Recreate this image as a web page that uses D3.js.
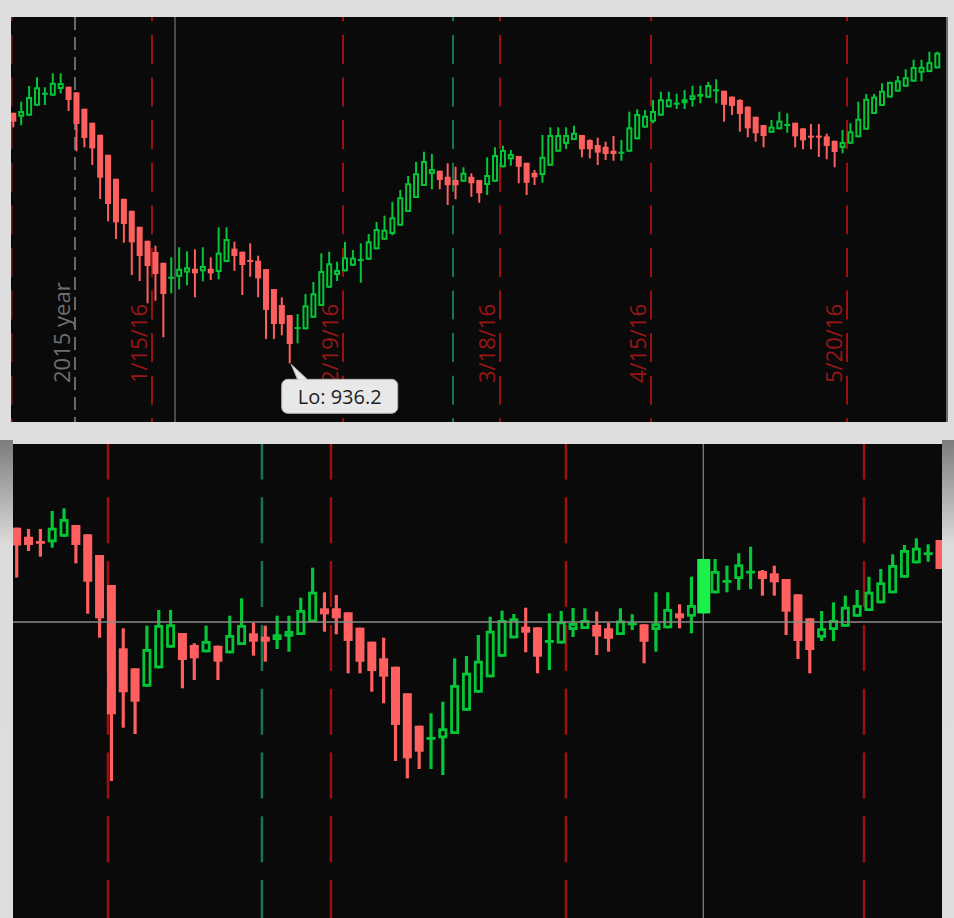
<!DOCTYPE html>
<html>
<head>
<meta charset="utf-8">
<script src="https://cdn.jsdelivr.net/npm/d3@7"></script>
<style>
html,body{margin:0;padding:0;background:#dedede;}
svg{display:block;}
</style>
</head>
<body>
<svg id="chart" width="954" height="918"></svg>
<script>
// ---------------- DATA: upper chart (daily candles, 118 sessions) ----------------
const topOpen = [1124.1,1121.1,1121.9,1129.4,1137.6,1136.9,1141.9,1143.6,1139.4,1127.1,
1116.6,1107.6,1092.6,1074.6,1059.6,1050.6,1038.6,1028.1,1019.7,1011.6,
999.9,1001.1,1004.2,1007.1,1005.2,1007.1,1004.7,1012.2,1022.2,1019.9,
1013.7,1013.1,1006.9,991.9,979.9,972.4,962.7,961.7,970.4,979.2,
992.9,1002.4,1005.2,1009.4,1013.7,1013.9,1021.7,1028.9,1033.2,1039.4,
1049.7,1060.2,1069.2,1078.2,1080.6,1076.1,1073.7,1072.4,1076.1,1073.7,
1069.9,1072.4,1083.2,1089.2,1091.7,1086.6,1079.1,1077.4,1084.4,1094.9,
1100.7,1103.7,1107.4,1103.7,1099.9,1098.6,1095.6,1094.7,1094.9,1104.2,
1112.9,1117.4,1121.9,1128.2,1131.4,1131.2,1133.7,1136.2,1135.4,1140.6,
1140.6,1136.2,1133.7,1128.7,1121.1,1114.9,1109.1,1111.7,1115.4,1116.6,
1112.4,1106.9,1106.9,1106.4,1103.1,1097.7,1100.9,1105.7,1111.4,1123.2,
1129.2,1135.5,1139.9,1143.6,1147.4,1154.1,1154.6,1157.4];
const topHigh = [1124.1,1132.4,1144.2,1150.7,1143.2,1153.7,1153.7,1143.6,1139.4,1127.1,
1116.6,1107.6,1092.6,1074.6,1059.6,1050.6,1038.6,1028.1,1024.4,1011.6,
1015.7,1023.2,1020.2,1021.7,1023.2,1015.7,1038.2,1038.2,1027.4,1019.9,
1026.2,1016.9,1006.9,991.9,985.7,972.4,973.2,988.2,997.2,1018.7,
1019.9,1012.4,1027.2,1021.2,1026.2,1033.2,1042.2,1046.9,1057.2,1066.2,
1076.7,1087.2,1094.9,1093.2,1080.6,1086.2,1083.6,1083.2,1078.7,1073.7,
1090.7,1098.2,1099.4,1096.2,1091.7,1086.6,1081.2,1107.4,1113.2,1113.2,
1113.2,1114.4,1107.4,1104.2,1105.4,1102.4,1106.7,1103.7,1124.9,1126.7,
1126.2,1133.7,1139.9,1139.9,1138.4,1141.2,1144.4,1144.4,1147.2,1149.2,
1140.6,1136.2,1134.2,1128.7,1121.1,1114.9,1118.7,1124.9,1123.7,1116.6,
1112.4,1115.7,1115.7,1108.4,1103.1,1111.2,1116.2,1132.4,1138.2,1138.2,
1146.2,1147.4,1151.7,1156.7,1163.9,1163.9,1169.9,1169.9];
const topLow = [1113.2,1114.7,1121.9,1129.4,1129.9,1136.9,1138.7,1125.4,1095.2,1098.2,
1084.9,1059.4,1042.7,1029.4,1026.6,1002.4,997.9,981.2,983.1,955.7,
988.7,991.7,994.7,985.7,997.7,998.7,999.2,1012.2,1005.6,987.4,
1001.1,985.7,954.4,954.4,957.2,936.2,951.2,961.7,970.4,979.2,
992.9,997.9,1005.2,1009.4,996.6,1013.9,1021.7,1028.9,1032.2,1039.4,
1049.7,1060.2,1069.2,1066.7,1066.7,1054.9,1059.2,1072.4,1061.1,1056.6,
1062.4,1072.4,1083.2,1084.4,1071.2,1062.4,1069.9,1071.6,1084.4,1094.9,
1096.9,1103.7,1090.7,1089.9,1084.9,1088.7,1088.1,1088.1,1094.9,1104.2,
1112.9,1116.2,1121.9,1128.2,1126.9,1126.9,1128.7,1131.2,1135.4,1131.2,
1117.4,1122.4,1109.9,1105.7,1102.4,1098.2,1109.1,1111.7,1109.1,1098.2,
1096.7,1096.7,1090.9,1089.2,1083.2,1093.7,1100.9,1105.7,1111.4,1123.2,
1129.2,1135.5,1139.9,1143.6,1147.4,1147.7,1154.6,1157.4];
const topClose = [1117.4,1125.4,1135.9,1143.2,1139.1,1146.6,1146.4,1133.7,1115.7,1105.2,
1097.4,1075.4,1055.7,1041.9,1040.7,1026.9,1016.7,1009.2,1003.2,988.2,
1001.1,1007.1,1008.2,1003.7,1009.2,1003.7,1019.2,1029.4,1016.7,1009.9,
1012.9,999.9,976.2,965.7,965.7,950.7,963.4,979.7,988.7,1005.4,
1011.2,1006.2,1015.7,1015.4,1014.4,1027.7,1036.9,1036.4,1045.7,1060.7,
1071.2,1078.7,1087.9,1081.9,1073.7,1069.7,1069.7,1079.1,1071.2,1063.7,
1077.4,1092.4,1096.2,1093.2,1083.6,1071.6,1075.7,1091.1,1107.4,1107.4,
1107.4,1109.1,1096.7,1096.7,1094.2,1093.2,1093.2,1094.9,1113.2,1123.2,
1121.9,1125.4,1134.2,1134.2,1131.7,1134.2,1137.2,1138.2,1144.9,1141.7,
1130.1,1129.2,1123.2,1112.4,1108.7,1106.7,1113.7,1118.2,1115.7,1106.4,
1103.4,1106.4,1105.9,1099.2,1094.7,1102.2,1110.2,1119.6,1134.6,1136.2,
1140.6,1147.2,1148.4,1150.7,1158.4,1158.6,1162.1,1169.2];

// event markers (positions in candle-index units) for the upper chart
const topExpiryIdx    = [-0.23, 17.56, 41.75, 61.63, 80.75, 105.57];
const topExpiryLabels = ["", "1/15/16", "2/19/16", "3/18/16", "4/15/16", "5/20/16"];
const topYearIdx = 7.81, topYearLabel = "2015 year";
const topGreenIdx = [55.68];
const topCrossIdx = 20.48;

// ---------------- DATA: lower chart (daily candles, 79 sessions) ----------------
const botOpen = [2120.3,2111.3,2107,2105.7,2111.3,2123,2113.7,2093,2063,1999.7,
1979.7,1961.3,1979.7,2000.3,2015,2003,1995.7,2002.3,1994.7,2003,
2014.7,2011.3,2008,2011.3,2013,2025.7,2039.7,2039.7,2035.7,2020.3,
2006.3,1989.7,1981.3,1954.7,1922.3,1910,1909.7,1914,1937.3,1955.3,
1970.7,1991.3,2009.7,2021.3,2020.7,2006,2004.5,2018,2019,2023,
2019.7,2013,2024,2023.7,2018,2019.7,2034.7,2031.3,2034.7,2054.7,
2065.7,2069,2076.5,2077,2074.7,2069,2053.7,2029.7,2010.3,2018,
2021.3,2031.3,2037,2044.7,2054.7,2070.3,2084.7,2094.7,2108];
const botHigh = [2120.3,2119,2119,2137,2139.7,2123,2113.7,2093,2063,2019.7,
1979.7,2022.3,2038,2038,2015,2004.7,2022.3,2002.3,2032.3,2049.7,
2025.3,2022.3,2032.3,2032.3,2050.3,2080.3,2055.7,2053,2035.7,2020.3,
2006.3,2010.3,1981.3,1954.7,1922.3,1934.7,1946.3,1989.7,1992,2013,
2031.3,2037.3,2034,2040.3,2020.7,2034.7,2037,2040,2039.7,2036.5,
2025,2039.7,2033.8,2023.7,2055.7,2055.7,2043.7,2071.3,2089,2089,
2082.3,2094.7,2101.3,2078,2082.3,2069,2053.7,2029.7,2037,2045.7,
2052.3,2058,2071.3,2079,2093.7,2103,2109.7,2103.7,2108];
const botLow = [2070.5,2097,2091.3,2100.3,2111.3,2084.7,2034.3,2010.3,1867,1920.3,
1914,1961.3,1979.7,2000.3,1959.7,1968,1995.7,1968,1994.7,2003,
1992.3,1986.3,1999,1996.3,2013,2025.7,2016.3,2013.7,1974.7,1974.7,
1956.3,1944.7,1887,1869.7,1879,1879,1873,1914,1937.3,1955.3,
1970.7,1991.3,2009.7,1995.7,1974.7,1978,2004.5,2011,2019,1993,
1996.3,2013,2018,1984.7,1996.3,2019.7,2019.7,2014.7,2034.7,2054.7,
2055.7,2058,2059,2052.3,2052.3,2013,1989,1974.7,2007,2007,
2021.3,2031.3,2037,2044.7,2054.7,2070.3,2084.7,2086.3,2079];
const botClose = [2102.5,2103,2105.5,2120.3,2129,2103,2066.3,2029.7,1933.7,1955.7,
1946.3,1999,2023,2023.7,1988,1989.7,2007,1986.3,2013,2023,
2006.3,2006.3,2013.7,2017,2038,2056.3,2033.7,2029.7,2007,1986.3,
1977,1971.3,1923,1889.7,1896.3,1911,1919.7,1963,1975.3,1987.3,
2017.3,2028,2029.7,2015.3,1991.3,2008,2026.5,2025,2028,2011.5,
2009.2,2027.5,2025.5,2006.3,2024.7,2039,2029.7,2043,2089,2077,
2068,2083.7,2077.3,2069,2065.7,2036.3,2007,1998,2019.7,2028,
2041.3,2043,2056.3,2065.7,2083,2098,2100.3,2095.7,2079];

const botExpiryIdx = [7.71, 26.55, 46.4, 71.58];
const botGreenIdx = [20.72];
const botCrossIdx = 58;        // highlighted candle under the crosshair
const botCrossPrice = 2026;

// ---------------- STYLE ----------------
const BG = "#0a0a0a", RED = "#ff5f5f", GREEN = "#05c637", HILITE = "#1cf04a";
const DASH_RED = "#9c1010", DASH_GREEN = "#16774a", DASH_GRAY = "#6a6a6a";
const LABEL_RED = "#9a1616", LABEL_GRAY = "#6e6e6e", CROSS = "#8a8a8a";
const FONT = "'Open Sans', 'DejaVu Sans', sans-serif";

const svg = d3.select("#chart");
const defs = svg.append("defs");

// panel geometry
const T = {x0: 11, x1: 946, y0: 17, y1: 422};
const B = {x0: 13, x1: 942, y0: 444, y1: 918};

defs.append("clipPath").attr("id","clipTop").append("rect")
  .attr("x",T.x0).attr("y",T.y0).attr("width",T.x1-T.x0).attr("height",T.y1-T.y0);
defs.append("clipPath").attr("id","clipBot").append("rect")
  .attr("x",B.x0).attr("y",B.y0).attr("width",B.x1-B.x0).attr("height",B.y1-B.y0);

const grad = defs.append("linearGradient").attr("id","sideGrad")
  .attr("x1",0).attr("y1",0).attr("x2",0).attr("y2",1);
grad.append("stop").attr("offset","0%").attr("stop-color","#7c7c7c");
grad.append("stop").attr("offset","22%").attr("stop-color","#dcdcdc");
grad.append("stop").attr("offset","100%").attr("stop-color","#dedede");

// background pieces
svg.append("rect").attr("x",0).attr("y",0).attr("width",954).attr("height",918).attr("fill","#dedede");
svg.append("rect").attr("x",T.x0).attr("y",T.y0).attr("width",T.x1-T.x0).attr("height",T.y1-T.y0).attr("fill",BG);
svg.append("rect").attr("x",T.x1).attr("y",T.y0).attr("width",2).attr("height",T.y1-T.y0).attr("fill","#6c6c6c");
svg.append("rect").attr("x",0).attr("y",440).attr("width",B.x0).attr("height",478).attr("fill","url(#sideGrad)");
svg.append("rect").attr("x",B.x1).attr("y",440).attr("width",954-B.x1).attr("height",478).attr("fill","url(#sideGrad)");
svg.append("rect").attr("x",B.x0).attr("y",B.y0).attr("width",B.x1-B.x0).attr("height",B.y1-B.y0).attr("fill",BG);

// scales
const xTop = d3.scaleLinear().domain([0, topOpen.length-1]).range([13.3, 937.3]);
const yTop = d3.scaleLinear().domain([892.2, 1195.9]).range([T.y1, T.y0]);
const xBot = d3.scaleLinear().domain([0, botOpen.length-1]).range([16.7, 940]);
const yBot = d3.scaleLinear().domain([1730, 2204]).range([B.y1, B.y0]);

function vlines(g, idxs, x, P, color, width, dash, offset) {
  g.selectAll(null).data(idxs).join("line")
    .attr("x1", d => x(d)).attr("x2", d => x(d))
    .attr("y1", P.y0).attr("y2", P.y1)
    .attr("stroke", color).attr("stroke-width", width)
    .attr("stroke-dasharray", dash).attr("stroke-dashoffset", offset);
}

function candles(g, o, h, l, c, x, y, s) {
  const idx = d3.range(o.length);
  g.append("g").selectAll("line").data(idx).join("line")
    .attr("x1", i => x(i)).attr("x2", i => x(i))
    .attr("y1", i => y(h[i])).attr("y2", i => y(l[i]))
    .attr("stroke", i => c[i] >= o[i] ? GREEN : RED)
    .attr("stroke-width", s.wick);
  g.append("g").selectAll("rect").data(idx).join("rect")
    .each(function(i) {
      const up = c[i] >= o[i];
      const top = y(Math.max(o[i], c[i]));
      const bot = y(Math.min(o[i], c[i]));
      const H = Math.max(s.minH, bot - top);
      const sel = d3.select(this);
      if (up) {
        sel.attr("x", x(i) - s.bw/2 + s.sw/2).attr("y", top + s.sw/2)
           .attr("width", s.bw - s.sw).attr("height", Math.max(0.01, H - s.sw))
           .attr("fill", BG).attr("stroke", GREEN).attr("stroke-width", s.sw);
      } else {
        sel.attr("x", x(i) - s.bw/2).attr("y", top)
           .attr("width", s.bw).attr("height", H).attr("fill", RED);
      }
    });
}

// ---------------- UPPER CHART ----------------
const gt = svg.append("g").attr("clip-path","url(#clipTop)");
vlines(gt, [topCrossIdx], xTop, T, CROSS, 1, null, 0);
vlines(gt, [topYearIdx], xTop, T, DASH_GRAY, 2, "13,7", 0);
vlines(gt, topExpiryIdx, xTop, T, DASH_RED, 2, "29,13.6", 24.7);
vlines(gt, topGreenIdx, xTop, T, DASH_GREEN, 2, "29,13.6", 24.7);

// rotated labels
function vlabel(g, xpos, text, color) {
  g.append("text")
    .attr("transform", `translate(${xpos},383) rotate(-90)`)
    .attr("font-family", FONT).attr("font-size", 22)
    .attr("fill", color).text(text);
}
vlabel(gt, xTop(topYearIdx) - 5, topYearLabel, LABEL_GRAY);
topExpiryIdx.forEach((d, k) => { if (topExpiryLabels[k]) vlabel(gt, xTop(d) - 5, topExpiryLabels[k], LABEL_RED); });

candles(gt, topOpen, topHigh, topLow, topClose, xTop, yTop, {bw: 6, sw: 2, wick: 2, minH: 2});

// Lo callout
const loVal = d3.min(topLow);
const loI = topLow.indexOf(loVal);
const px = xTop(loI), py = yTop(loVal);
const call = svg.append("g");
call.append("rect").attr("x", px - 8).attr("y", py + 16).attr("width", 116).attr("height", 34)
  .attr("rx", 6).attr("fill", "#e8e8e8").attr("stroke", "#b4b4b4").attr("stroke-width", 1);
call.append("path").attr("d", `M${px+1.5},${py+1} L${px+8},${py+16.5} L${px+18},${py+16.5} Z`)
  .attr("fill", "#e8e8e8");
call.append("path").attr("d", `M${px+8},${py+16.5} L${px+1.5},${py+1} L${px+18},${py+16.5}`)
  .attr("fill", "none").attr("stroke", "#b4b4b4").attr("stroke-width", 1);
call.append("text").attr("x", px + 50).attr("y", py + 41).attr("text-anchor", "middle")
  .attr("font-family", FONT).attr("font-size", 20).attr("fill", "#1e1e1e")
  .text("Lo: " + d3.format(".1f")(loVal));

// ---------------- LOWER CHART ----------------
const gb = svg.append("g").attr("clip-path","url(#clipBot)");
vlines(gb, [botCrossIdx], xBot, B, CROSS, 1.2, null, 0);
vlines(gb, botExpiryIdx, xBot, B, DASH_RED, 2.5, "46,17.8", 10.5);
vlines(gb, botGreenIdx, xBot, B, DASH_GREEN, 2.5, "46,17.8", 10.5);

candles(gb, botOpen, botHigh, botLow, botClose, xBot, yBot, {bw: 9, sw: 2.8, wick: 3.2, minH: 2.8});

// highlighted candle under crosshair
gb.append("rect")
  .attr("x", xBot(botCrossIdx) - 6).attr("width", 13)
  .attr("y", yBot(Math.max(botOpen[botCrossIdx], botClose[botCrossIdx])))
  .attr("height", yBot(Math.min(botOpen[botCrossIdx], botClose[botCrossIdx])) - yBot(Math.max(botOpen[botCrossIdx], botClose[botCrossIdx])))
  .attr("fill", HILITE);

// horizontal crosshair
gb.append("line").attr("x1", B.x0).attr("x2", B.x1)
  .attr("y1", yBot(botCrossPrice)).attr("y2", yBot(botCrossPrice))
  .attr("stroke", CROSS).attr("stroke-width", 1.5);
</script>
</body>
</html>
